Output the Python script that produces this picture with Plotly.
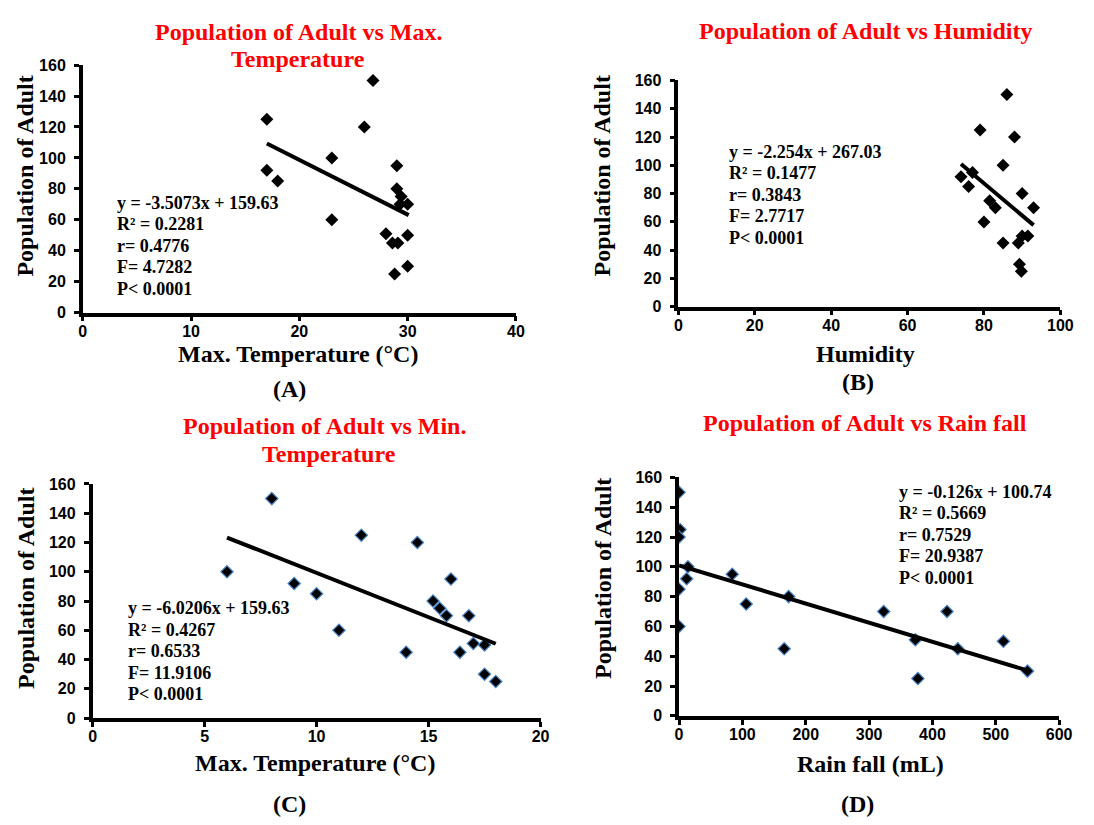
import plotly.graph_objects as go

W, H = 1094, 825

# ---------------- data ----------------
max_temp = [17, 17, 18, 23, 23, 26, 26.8, 29, 29, 29.4, 30, 29.3, 28, 28.6, 29.1, 30, 30, 28.8]
adult_a = [125, 92, 85, 100, 60, 120, 150, 95, 80, 75, 70, 70, 51, 45, 45, 50, 30, 25]

humidity = [86, 79, 88, 85, 74, 77, 76, 90, 93, 81.5, 83, 80, 85, 89, 90, 91.5, 89.3, 89.8]
adult_b = [150, 125, 120, 100, 92, 95, 85, 80, 70, 75, 70, 60, 45, 45, 50, 50, 30, 25]

min_temp = [8, 6, 9, 10, 11, 12, 14.5, 14, 16, 15.2, 15.5, 15.8, 16.8, 16.4, 17, 17.5, 17.5, 18]
adult_c = [150, 100, 92, 85, 60, 125, 120, 45, 95, 80, 75, 70, 70, 45, 51, 50, 30, 25]

rainfall = [0, 1.5, 0, 14, 12, 0, 0, 84, 106, 173, 166, 323, 373, 377, 423, 440, 512, 550]
adult_d = [150, 125, 120, 100, 92, 85, 60, 95, 75, 80, 45, 70, 51, 25, 70, 45, 50, 30]

trend_a_x = [17, 30.1]
trend_a_y = [109.3, 63]
trend_b_x = [74, 93]
trend_b_y = [100.9, 57.7]
trend_c_x = [6, 18]
trend_c_y = [123.4, 50.8]
trend_d_x = [0, 549.5]
trend_d_y = [101, 30.5]

stats_a = ["y = -3.5073x + 159.63", "R² = 0.2281", "r= 0.4776", "F= 4.7282", "P< 0.0001"]
stats_b = ["y = -2.254x + 267.03", "R² = 0.1477", "r= 0.3843", "F= 2.7717", "P< 0.0001"]
stats_c = ["y = -6.0206x + 159.63", "R² = 0.4267", "r= 0.6533", "F= 11.9106", "P< 0.0001"]
stats_d = ["y = -0.126x + 100.74", "R² = 0.5669", "r= 0.7529", "F= 20.9387", "P< 0.0001"]

titles = [["Population of Adult vs Max.", "Temperature"],
          ["Population of Adult vs Humidity"],
          ["Population of Adult vs Min.", "Temperature"],
          ["Population of Adult vs Rain fall"]]
x_titles = ["Max. Temperature (°C)", "Humidity", "Max. Temperature (°C)", "Rain fall (mL)"]
y_title = "Population of Adult"
panel_labels = ["(A)", "(B)", "(C)", "(D)"]

# ---------------- helpers ----------------
def fx(px):
    return px / W

def fy(py):
    return 1 - py / H

SERIF = "Liberation Serif, Times New Roman, serif"
SANS = "Liberation Sans, Arial, sans-serif"

fig = go.Figure()

panels = [
    dict(x=max_temp, y=adult_a, tx=trend_a_x, ty=trend_a_y, edge="black",
         xdom=(80, 520), ydom=(311, 58.3), xr=[0, 40], dt=10,
         title_xy=[(299, 24), (299, 52)], xt_xy=(299, 353), yt_xy=(21.5, 172), lab_xy=(290, 389),
         stats=stats_a, st_xy=(113, 199)),
    dict(x=humidity, y=adult_b, tx=trend_b_x, ty=trend_b_y, edge="black",
         xdom=(685, 1073), ydom=(305, 74), xr=[0, 100], dt=20,
         title_xy=[(875, 23)], xt_xy=(875, 353), yt_xy=(607.5, 172), lab_xy=(867, 382),
         stats=stats_b, st_xy=(734.5, 147)),
    dict(x=min_temp, y=adult_c, tx=trend_c_x, ty=trend_c_y, edge="#4a86c8",
         xdom=(90, 545), ydom=(725, 486), xr=[0, 20], dt=5,
         title_xy=[(326, 427), (330, 455)], xt_xy=(315.5, 771), yt_xy=(22.5, 593), lab_xy=(290, 813),
         stats=stats_c, st_xy=(124, 613)),
    dict(x=rainfall, y=adult_d, tx=trend_d_x, ty=trend_d_y, edge="#4a86c8",
         xdom=(685.7, 1071.8), ydom=(722.7, 479.3), xr=[0, 600], dt=100,
         title_xy=[(875, 424)], xt_xy=(880, 772), yt_xy=(608.5, 583), lab_xy=(867, 813),
         stats=stats_d, st_xy=(907, 494)),
]

annotations = []
for i, p in enumerate(panels, start=1):
    xa = "x" if i == 1 else f"x{i}"
    ya = "y" if i == 1 else f"y{i}"
    fig.add_trace(go.Scatter(
        x=p["x"], y=p["y"], mode="markers", xaxis=xa, yaxis=ya,
        marker=dict(symbol="diamond", size=10 if p["edge"] == "black" else 9.5,
                    color="black", line=dict(color=p["edge"], width=0 if p["edge"] == "black" else 1.2)),
        showlegend=False, hoverinfo="skip"))
    fig.add_trace(go.Scatter(
        x=p["tx"], y=p["ty"], mode="lines", xaxis=xa, yaxis=ya,
        line=dict(color="black", width=4), showlegend=False, hoverinfo="skip"))

    axis_common = dict(
        showline=True, linewidth=3.5, linecolor="black", showgrid=False, zeroline=False,
        ticks="outside", ticklen=5, tickwidth=3, tickcolor="black",
        tickfont=dict(family=SANS, size=16, color="black", weight="bold"),
    )
    fig.layout[f"xaxis{'' if i == 1 else i}"] = dict(
        axis_common, domain=[fx(p["xdom"][0]), fx(p["xdom"][1])], range=p["xr"], dtick=p["dt"],
        anchor=ya, ticklabelstandoff=-4)
    fig.layout[f"yaxis{'' if i == 1 else i}"] = dict(
        axis_common, domain=[fy(p["ydom"][0]), fy(p["ydom"][1])], range=[0, 160], dtick=20,
        anchor=xa, ticklabelstandoff=5)

    for (tx, ty), ttext in zip(p["title_xy"], titles[i - 1]):
        annotations.append(dict(text=ttext, x=fx(tx), y=fy(ty),
                                xref="paper", yref="paper", showarrow=False, xanchor="center", yanchor="middle",
                                font=dict(family=SERIF, size=24, color="#ff0000", weight="bold")))
    annotations.append(dict(text=x_titles[i - 1], x=fx(p["xt_xy"][0]), y=fy(p["xt_xy"][1]),
                            xref="paper", yref="paper", showarrow=False, xanchor="center", yanchor="middle",
                            font=dict(family=SERIF, size=24, color="black", weight="bold")))
    annotations.append(dict(text=y_title, x=fx(p["yt_xy"][0]), y=fy(p["yt_xy"][1]), textangle=-90,
                            xref="paper", yref="paper", showarrow=False, xanchor="center", yanchor="middle",
                            font=dict(family=SERIF, size=24, color="black", weight="bold")))
    annotations.append(dict(text=panel_labels[i - 1], x=fx(p["lab_xy"][0]), y=fy(p["lab_xy"][1]),
                            xref="paper", yref="paper", showarrow=False, xanchor="center", yanchor="middle",
                            font=dict(family=SERIF, size=24, color="black", weight="bold")))
    for k, line in enumerate(p["stats"]):
        annotations.append(dict(text=line, x=fx(p["st_xy"][0]), y=fy(p["st_xy"][1] + k * 21.9),
                                xref="paper", yref="paper", showarrow=False, xanchor="left", yanchor="middle",
                                font=dict(family=SERIF, size=18, color="black", weight="bold")))

fig.update_layout(
    width=W, height=H, margin=dict(l=0, r=0, t=0, b=0),
    paper_bgcolor="white", plot_bgcolor="white",
    annotations=annotations,
)

fig.write_html("out.html")
